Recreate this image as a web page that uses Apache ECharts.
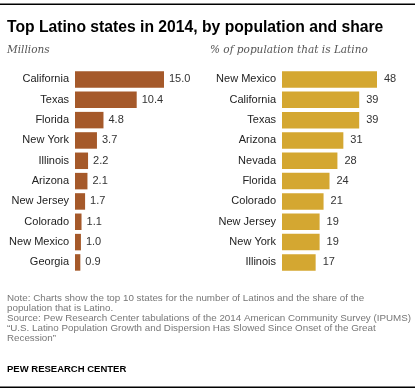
<!DOCTYPE html>
<html><head><meta charset="utf-8">
<script src="https://cdn.jsdelivr.net/npm/echarts@6/dist/echarts.min.js"></script>
<style>html,body{margin:0;padding:0;background:#fff}#c{width:415px;height:392px}</style>
</head><body><div id="c"></div>
<script>
const popStates = ["California","Texas","Florida","New York","Illinois","Arizona","New Jersey","Colorado","New Mexico","Georgia"];
const popMillions = [15.0,10.4,4.8,3.7,2.2,2.1,1.7,1.1,1.0,0.9];
const shareStates = ["New Mexico","California","Texas","Arizona","Nevada","Florida","Colorado","New Jersey","New York","Illinois"];
const sharePct = [48,39,39,31,28,24,21,19,19,17];

const sans = "'Liberation Sans', Arial, sans-serif";
const narrow = "'Liberation Sans Narrow', 'Liberation Sans', sans-serif";
const chart = echarts.init(document.getElementById('c'), null, {renderer:'canvas'});
const catAxis = (gi, data) => ({
  type:'category', gridIndex:gi, data:data, inverse:true,
  axisLine:{show:false}, axisTick:{show:false},
  axisLabel:{color:'#222', fontSize:11, fontFamily:sans, margin:6}
});
const valAxis = (gi, max) => ({
  type:'value', gridIndex:gi, min:0, max:max, show:false, splitLine:{show:false}
});
chart.setOption({
  animation:false,
  title:[
    {text:'Top Latino states in 2014, by population and share', left:2, top:15,
     textStyle:{fontSize:15.7, fontWeight:'bold', color:'#000', fontFamily:sans}},
    {text:'Millions', left:2, top:40,
     textStyle:{fontSize:10.5, fontStyle:'italic', fontWeight:'normal', color:'#555', fontFamily:"'DejaVu Serif', serif"}},
    {text:'% of population that is Latino', left:205, top:40,
     textStyle:{fontSize:10.5, fontStyle:'italic', fontWeight:'normal', color:'#555', fontFamily:"'DejaVu Serif', serif"}},
    {text:'Note: Charts show the top 10 states for the number of Latinos and the share of the\npopulation that is Latino.\nSource: Pew Research Center tabulations of the 2014 American Community Survey (IPUMS)\n\u201cU.S. Latino Population Growth and Dispersion Has Slowed Since Onset of the Great\nRecession\u201d',
     left:2, top:288,
     textStyle:{fontSize:9.8, fontWeight:'normal', color:'#777', lineHeight:10, fontFamily:narrow}},
    {text:'PEW RESEARCH CENTER', left:2, top:359,
     textStyle:{fontSize:9.5, fontWeight:'bold', color:'#000', fontFamily:narrow}}
  ],
  graphic:[
    {type:'rect', shape:{x:0,y:3.5,width:415,height:1.4}, style:{fill:'#000'}},
    {type:'rect', shape:{x:0,y:386.5,width:415,height:1.4}, style:{fill:'#000'}}
  ],
  grid:[
    {left:75, top:69.3, width:89, height:203.3, containLabel:false},
    {left:282, top:69.3, width:95, height:203.3, containLabel:false}
  ],
  xAxis:[valAxis(0,15), valAxis(1,48)],
  yAxis:[catAxis(0,popStates), catAxis(1,shareStates)],
  series:[
    {type:'bar', xAxisIndex:0, yAxisIndex:0, data:popMillions, barWidth:16.5,
     itemStyle:{color:'#A5592A'},
     label:{show:true, position:'right', distance:5, color:'#333', fontSize:11, fontFamily:sans,
            formatter:p=>p.value.toFixed(1)}},
    {type:'bar', xAxisIndex:1, yAxisIndex:1, data:sharePct, barWidth:16.5,
     itemStyle:{color:'#D4A731'},
     label:{show:true, position:'right', distance:7, color:'#333', fontSize:11, fontFamily:sans}}
  ]
});
</script></body></html>
